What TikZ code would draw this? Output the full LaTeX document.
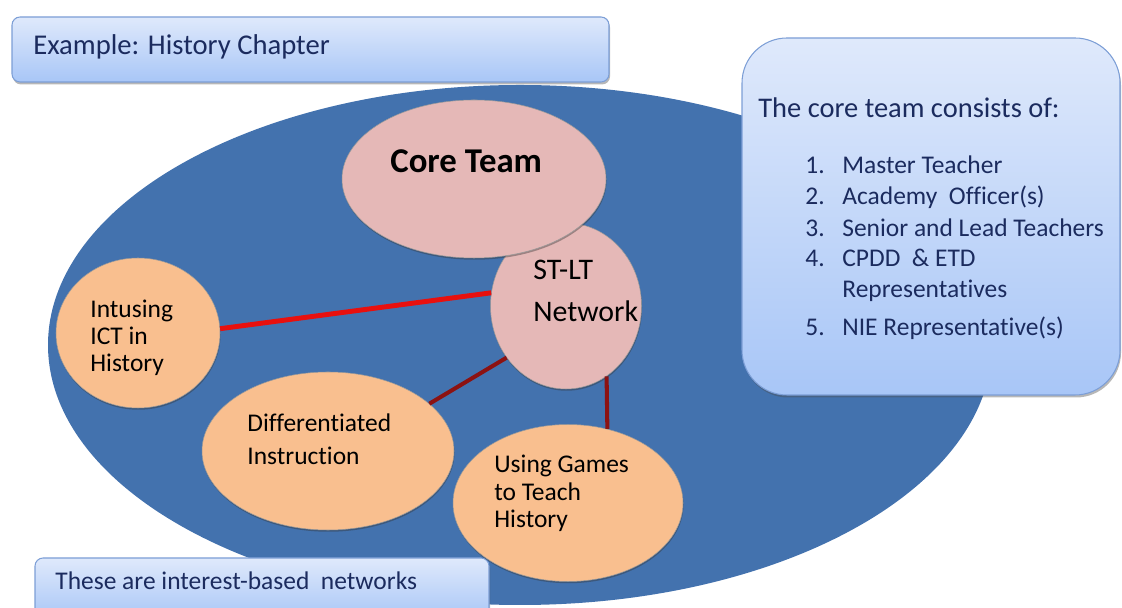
\documentclass[tikz,border=0pt]{standalone}
\usepackage{fontspec}
\setmainfont{Carlito}[Ligatures=NoCommon]
\usepackage{tikz}
\usetikzlibrary{positioning,calc,shapes.geometric,shadows}
\definecolor{fieldblue}{HTML}{4372AE}
\definecolor{notetop}{HTML}{DFE9FB}
\definecolor{notebot}{HTML}{A8C6F7}
\definecolor{noteline}{HTML}{7C9ED6}
\definecolor{notetext}{HTML}{1B2B5E}
\definecolor{corepink}{HTML}{E5B8B7}
\definecolor{grouporange}{HTML}{F9BF8F}
\definecolor{linkred}{HTML}{E8100E}
\definecolor{linkdark}{HTML}{8C1212}
\tikzset{
  notebox/.style={draw=noteline, line width=0.6pt, top color=notetop, bottom color=notebot,
    rounded corners=0.16cm, inner sep=0pt,
    drop shadow={shadow xshift=0.02cm, shadow yshift=-0.05cm, opacity=0.4, fill=black!70}},
  blob/.style={ellipse, inner sep=0pt, draw=black!40, line width=0.3pt,
    drop shadow={shadow xshift=0.01cm, shadow yshift=-0.035cm, opacity=0.4, fill=black!80}},
  coreblob/.style={blob, fill=corepink},
  groupblob/.style={blob, fill=grouporange},
  notelabel/.style={anchor=base west, inner sep=0pt, text=notetext},
  bloblabel/.style={anchor=base west, inner sep=0pt, align=left, text=black},
  edgebright/.style={linkred, line width=2.8pt},
  edgedark/.style={linkdark, line width=2.3pt}
}
\newcommand\itemno[1]{\makebox[0.74cm][l]{#1}}

\begin{document}
\begin{tikzpicture}
\clip (0,0) rectangle (22.44,12.16);

\node[ellipse, fill=fieldblue, inner sep=0pt, minimum width=18.88cm,
  minimum height=10.4cm](field) at (10.40,5.26) {};

% boxes
\node[notebox, minimum width=11.94cm, minimum height=1.30cm](titlebox) at (6.21,11.17) {};
\node[notelabel, font=\fontsize{16.3}{19}\selectfont](titletext) at (0.66,11.06)
{Example: History Chapter};

\node[notebox, rounded corners=0.9cm, minimum width=7.56cm,
  minimum height=7.14cm](teambox) at (18.62,7.83) {};
\node[notelabel, font=\fontsize{16.2}{19}\selectfont](teamhead) at (15.16,9.80)
{The core team consists of:};
\node[notelabel, font=\fontsize{14.5}{17}\selectfont](teamone) at (16.10,8.68)
{\itemno{1.}Master Teacher};
\node[notelabel, font=\fontsize{14.5}{17}\selectfont](teamtwo) at (16.10,8.06)
{\itemno{2.}Academy~ Officer(s)};
\node[notelabel, font=\fontsize{14.5}{17}\selectfont](teamthree) at (16.10,7.42)
{\itemno{3.}Senior and Lead Teachers};
\node[notelabel, font=\fontsize{14.5}{17}\selectfont](teamfour) at (16.10,6.82)
{\itemno{4.}CPDD ~\& ETD};
\node[notelabel, font=\fontsize{14.5}{17}\selectfont](teamfourb) at (16.84,6.20)
{Representatives};
\node[notelabel, font=\fontsize{14.5}{17}\selectfont](teamfive) at (16.10,5.44)
{\itemno{5.}NIE Representative(s)};

\node[notebox, minimum width=9.08cm, minimum height=1.24cm](notebottom) at (5.24,0.38) {};
\node[notelabel, font=\fontsize{14.5}{17}\selectfont](bottomtext) at (1.10,0.36)
{These are interest-based~ networks};

% network ellipses
\node[coreblob, minimum width=3.02cm, minimum height=3.32cm](stlt) at (11.32,6.04) {};
\node[coreblob, minimum width=5.28cm, minimum height=3.16cm](core) at (9.48,8.58) {};
\node[groupblob, minimum width=3.28cm, minimum height=3.00cm](ict) at (2.76,5.50) {};
\node[groupblob, minimum width=5.04cm, minimum height=3.16cm](diff) at (6.56,3.14) {};
\node[groupblob, minimum width=4.60cm, minimum height=3.14cm](games) at (11.36,2.10) {};

% labels (base = last line)
\node[bloblabel, font=\bfseries\fontsize{19.8}{23}\selectfont](coretext) at (7.80,8.70)
{Core Team};
\node[bloblabel, font=\fontsize{17}{23.9}\selectfont](stlttext) at (10.66,5.72)
{ST-LT\\Network};
\node[bloblabel, font=\fontsize{14.5}{15.6}\selectfont](icttext) at (1.80,4.72)
{Intusing\\ICT in\\History};
\node[bloblabel, font=\fontsize{14.5}{18.8}\selectfont](difftext) at (4.94,2.86)
{Differentiated\\Instruction};
\node[bloblabel, font=\fontsize{14.5}{15.9}\selectfont](gamestext) at (9.88,1.60)
{Using Games\\to Teach\\History};

% links
\draw[edgebright] (ict.3) -- (stlt.170);
\draw[edgedark] (diff.25) -- (stlt.221);
\draw[edgedark] (stlt.-60) -- (games.62);
\end{tikzpicture}
\end{document}
